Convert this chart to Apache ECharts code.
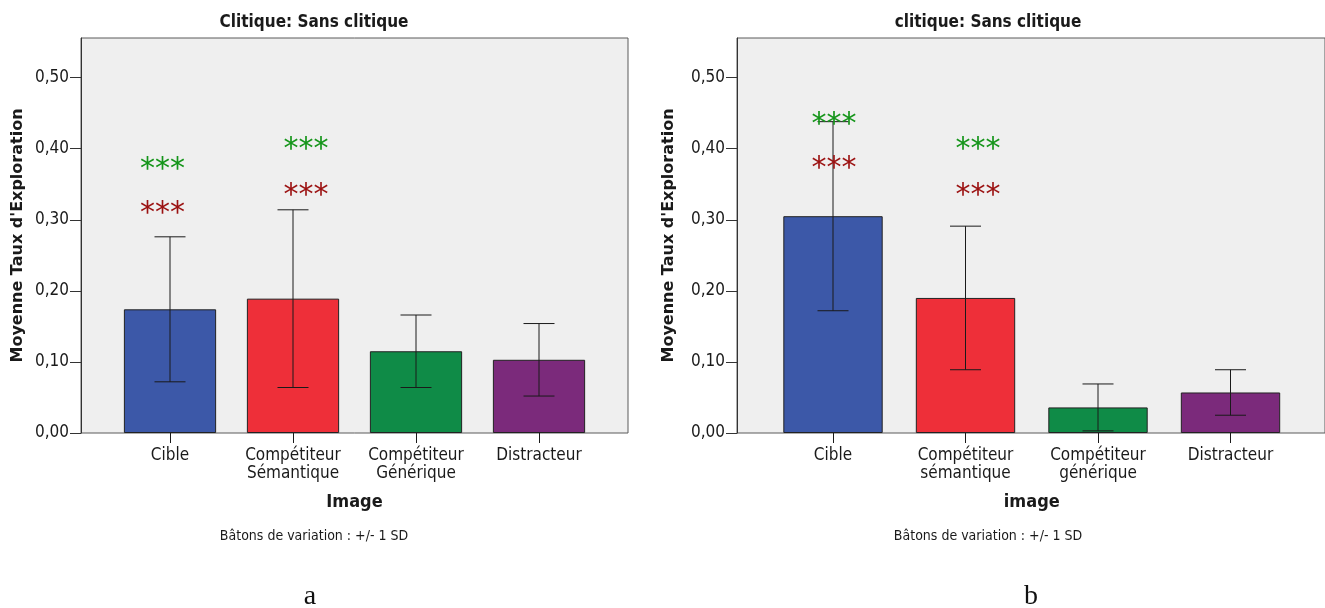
<!DOCTYPE html>
<html>
<head>
<meta charset="utf-8">
<script src="https://cdn.jsdelivr.net/npm/echarts@6/dist/echarts.min.js"></script>
<style>
  html, body { margin: 0; padding: 0; background: #fff; }
  #chart { width: 1325px; height: 608px; }
</style>
</head>
<body>
<div id="chart"></div>
<script>
// ---- data ----
const categoriesA = ['Cible', 'Compétiteur\nSémantique', 'Compétiteur\nGénérique', 'Distracteur'];
const categoriesB = ['Cible', 'Compétiteur\nsémantique', 'Compétiteur\ngénérique', 'Distracteur'];
const meansA = [0.174, 0.189, 0.115, 0.103];
const sdA = [0.102, 0.125, 0.051, 0.051];
const meansB = [0.305, 0.190, 0.036, 0.057];
const sdB = [0.133, 0.101, 0.033, 0.032];
// significance markers: [category index, level on the value axis]
const starsGreenA = [[0, 0.378], [1, 0.406]];
const starsRedA = [[0, 0.316], [1, 0.342]];
const starsGreenB = [[0, 0.442], [1, 0.406]];
const starsRedB = [[0, 0.380], [1, 0.342]];
const yTicks = [0, 0.1, 0.2, 0.3, 0.4, 0.5];
const yMax = 0.5557;
const barColors = ['#3c58a8', '#ee2f39', '#0f8b47', '#7b2a7b'];

// ---- look ----
const condensed = "'Liberation Sans Narrow', 'DejaVu Sans Condensed', sans-serif";
const ink = '#1a1a1a';
const capHalf = 15.5;
const starBaselineFix = 6; // the asterisk glyph sits high in its em box

const panels = [
  { cats: categoriesA, means: meansA, sd: sdA, green: starsGreenA, red: starsRedA,
    frame: { left: 81, width: 547 }, inner: { left: 108.5, width: 492 },
    starShift: [-7.5, 13], xName: 'Image', yNameGap: 55,
    title: 'Clitique: Sans clitique', titleX: 314, tag: 'a', tagX: 310 },
  { cats: categoriesB, means: meansB, sd: sdB, green: starsGreenB, red: starsRedB,
    frame: { left: 737, width: 592 }, inner: { left: 766.75, width: 530 },
    starShift: [1, 12.5], xName: 'image', yNameGap: 60,
    title: 'clitique: Sans clitique', titleX: 988, tag: 'b', tagX: 1031 }
];

const TOP = 38, HEIGHT = 395;
const grids = [], xAxes = [], yAxes = [], series = [], texts = [];

function errorBarItem(params, api) {
  const i = api.value(0);
  const lo = api.coord([i, api.value(1)]);
  const hi = api.coord([i, api.value(2)]);
  const st = { stroke: ink, lineWidth: 1 };
  return {
    type: 'group',
    children: [
      { type: 'line', shape: { x1: hi[0], y1: hi[1], x2: lo[0], y2: lo[1] }, style: st },
      { type: 'line', shape: { x1: hi[0] - capHalf, y1: hi[1], x2: hi[0] + capHalf, y2: hi[1] }, style: st },
      { type: 'line', shape: { x1: lo[0] - capHalf, y1: lo[1], x2: lo[0] + capHalf, y2: lo[1] }, style: st }
    ]
  };
}

function starRenderer(color, shifts) {
  return function (params, api) {
    const i = api.value(0);
    const p = api.coord([i, api.value(1)]);
    return {
      type: 'text',
      x: p[0] + shifts[i],
      y: p[1] + starBaselineFix,
      style: {
        text: '***', fill: color, font: '30px "DejaVu Sans", sans-serif',
        align: 'center', verticalAlign: 'middle'
      }
    };
  };
}

panels.forEach(function (pn) {
  const frameIdx = grids.length;
  // shaded plot frame
  grids.push({ left: pn.frame.left, width: pn.frame.width, top: TOP, height: HEIGHT,
    show: true, backgroundColor: '#efefef', borderColor: '#5a5a5a', borderWidth: 1 });
  xAxes.push({ gridIndex: frameIdx, type: 'value', show: false });
  yAxes.push({ gridIndex: frameIdx, type: 'value', show: false });

  const gi = grids.length;
  grids.push({ left: pn.inner.left, width: pn.inner.width, top: TOP, height: HEIGHT });
  const xi = xAxes.length, yi = yAxes.length;
  xAxes.push({
    gridIndex: gi, type: 'category', data: pn.cats, boundaryGap: true,
    name: pn.xName, nameLocation: 'middle', nameGap: 60,
    nameTextStyle: { fontFamily: condensed, fontWeight: 'bold', fontSize: 18, color: ink },
    axisLine: { show: false },
    axisTick: { show: true, alignWithLabel: true, length: 10, lineStyle: { color: ink } },
    axisLabel: { interval: 0, fontFamily: condensed, fontSize: 17, color: ink, margin: 14, lineHeight: 18 }
  });
  yAxes.push({
    gridIndex: gi, type: 'value', min: 0, max: yMax,
    offset: pn.inner.left - pn.frame.left,
    name: "Moyenne Taux d'Exploration", nameLocation: 'middle', nameGap: pn.yNameGap,
    nameTextStyle: { fontFamily: "'DejaVu Sans', sans-serif", fontWeight: 'bold', fontSize: 16, color: ink },
    splitLine: { show: false },
    axisLine: { show: true, lineStyle: { color: '#333' } },
    axisTick: { show: true, length: 11, customValues: yTicks, lineStyle: { color: '#333' } },
    axisLabel: { customValues: yTicks, fontFamily: condensed, fontSize: 17, color: ink, margin: 12,
      formatter: function (v) { return v.toFixed(2).replace('.', ','); } }
  });

  series.push({
    type: 'bar', xAxisIndex: xi, yAxisIndex: yi, barWidth: '75%',
    data: pn.means.map(function (m, i) {
      return { value: m, itemStyle: { color: barColors[i] } };
    }),
    itemStyle: { borderColor: '#222', borderWidth: 1 }
  });
  series.push({
    type: 'custom', xAxisIndex: xi, yAxisIndex: yi, z: 5,
    renderItem: errorBarItem,
    encode: { x: 0, y: [1, 2] },
    data: pn.means.map(function (m, i) { return [i, m - pn.sd[i], m + pn.sd[i]]; })
  });
  series.push({
    type: 'custom', xAxisIndex: xi, yAxisIndex: yi, z: 6,
    renderItem: starRenderer('#15951a', pn.starShift),
    encode: { x: 0, y: 1 }, data: pn.green
  });
  series.push({
    type: 'custom', xAxisIndex: xi, yAxisIndex: yi, z: 6,
    renderItem: starRenderer('#9b1111', pn.starShift),
    encode: { x: 0, y: 1 }, data: pn.red
  });

  texts.push({ type: 'text', x: pn.titleX, y: 23, style: {
    text: pn.title, font: 'bold 17px ' + condensed, fill: ink, align: 'center', verticalAlign: 'middle' } });
  texts.push({ type: 'text', x: pn.titleX, y: 536, style: {
    text: 'Bâtons de variation : +/- 1 SD', font: '14px ' + condensed, fill: ink, align: 'center', verticalAlign: 'middle' } });
  texts.push({ type: 'text', x: pn.tagX, y: 597, style: {
    text: pn.tag, font: '28px "Liberation Serif", "DejaVu Serif", serif', fill: '#111', align: 'center', verticalAlign: 'middle' } });
});

const chart = echarts.init(document.getElementById('chart'), null, { renderer: 'canvas' });
chart.setOption({
  animation: false,
  backgroundColor: '#ffffff',
  grid: grids, xAxis: xAxes, yAxis: yAxes, series: series,
  graphic: { elements: texts }
});
</script>
</body>
</html>
